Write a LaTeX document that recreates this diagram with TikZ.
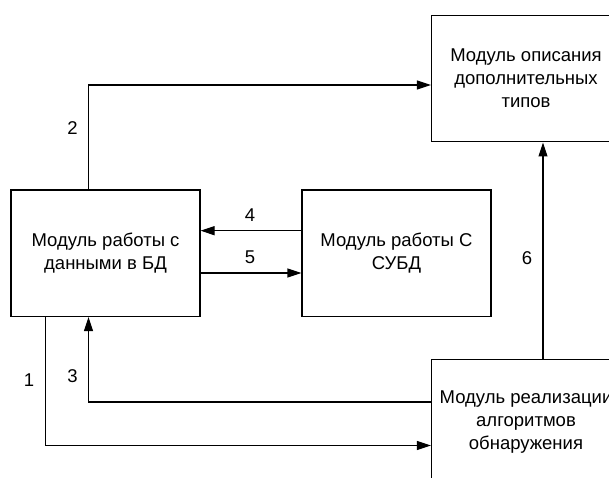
\documentclass[tikz,border=0pt]{standalone}
\usepackage{fontspec}
\setmainfont{Liberation Sans}
\usetikzlibrary{arrows.meta,calc}

\tikzset{
  modbox/.style={draw, line width=1.1pt, minimum width=189pt, minimum height=126.5pt,
    inner sep=0pt, align=center, font=\fontsize{18.5}{23}\selectfont},
  lbl/.style={inner sep=0pt, font=\fontsize{18.5}{23}\selectfont},
  arr/.style={line width=1.1pt, -{Triangle[length=14pt,width=9pt]}}
}

\begin{document}
\begin{tikzpicture}[x=1pt,y=-1pt]
\useasboundingbox (0,0) rectangle (609,478);
\clip (0,0) rectangle (609,478);

% modules:
\node[modbox] (db) at (105.5,253.3) {Модуль работы с\\данными в БД};
\node[modbox] (dbms) at (396.5,253.3) {Модуль работы С\\СУБД};
\node[modbox] (types) at (526,78.7) {Модуль описания\\дополнительных\\типов};
\node[modbox] (detect) at (526,422.5) {Модуль реализации\\алгоритмов\\обнаружения};

% links:
\draw[arr] ([xshift=-17pt]db.north) |- ([yshift=-6.3pt]types.west);
\draw[arr] ([yshift=22.6pt]dbms.west) -- ([yshift=22.6pt]db.east);
\draw[arr] ([yshift=-19.7pt]db.east) -- ([yshift=-19.7pt]dbms.west);
\draw[arr] ([xshift=17pt]detect.north) -- ([xshift=17pt]types.south);
\draw[arr] ([yshift=20.5pt]detect.west) -| ([xshift=-17pt]db.south);
\draw[arr] ([xshift=-60pt]db.south) |- ([yshift=-23pt]detect.west);

% numbers:
\node[lbl] (n1) at (29,380) {1};
\node[lbl] (n2) at (72.6,128) {2};
\node[lbl] (n3) at (72.6,376) {3};
\node[lbl] (n4) at (250,215) {4};
\node[lbl] (n5) at (250,257) {5};
\node[lbl] (n6) at (527,258) {6};

\end{tikzpicture}
\end{document}
